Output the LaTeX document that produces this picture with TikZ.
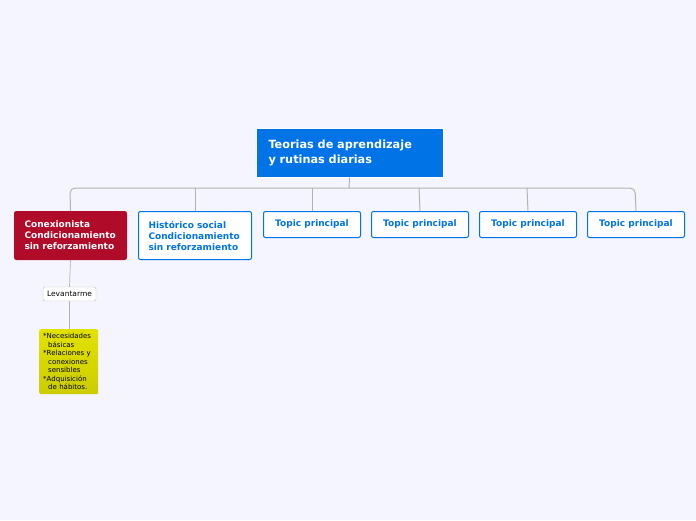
\documentclass[tikz,border=0pt]{standalone}
\usepackage{fontspec}
\setmainfont{DejaVu Sans}
\begin{document}
\begin{tikzpicture}[x=1pt,y=-1pt,
 box/.style={draw=#1,rounded corners=2pt,line width=1pt,inner sep=0pt,anchor=north west},
 topic/.style={box=blue!70!cyan,fill=white,text=blue!70!cyan,font=\bfseries\fontsize{9}{11}\selectfont,align=left},
 conn/.style={draw=black!30,line width=1pt,rounded corners=5pt}]
\fill[blue!4] (0,0) rectangle (696,520);
\definecolor{mb}{HTML}{0073E6}
\definecolor{rd}{HTML}{B00B28}
\node[fill=mb,draw=white,line width=1pt,minimum width=187,minimum height=49,anchor=north west,text=white,font=\bfseries\fontsize{11.3}{15}\selectfont,align=left,text width=162] (root) at (255.5,127.5) {Teorias de aprendizaje\\y rutinas diarias};
\node[box=rd,fill=rd,text=white,font=\bfseries\fontsize{9}{11}\selectfont,align=left,minimum width=112,minimum height=48,text width=92] (c1) at (14,211) {Conexionista\\Condicionamiento\\sin reforzamiento};
\node[topic,draw=mb,text=mb,minimum width=113,minimum height=48,text width=93] (c2) at (138,211) {Histórico social\\Condicionamiento\\sin reforzamiento};
\foreach \i/\x in {3/263,4/371,5/479,6/587}
  \node[topic,draw=mb,text=mb,minimum width=97,minimum height=26,align=center] (c\i) at (\x,211) {Topic principal};
\node[draw=black!25,fill=white,rounded corners=2pt,inner sep=0pt,minimum width=53,minimum height=14,font=\fontsize{7.5}{9}\selectfont] (lev) at (69.5,294) {Levantarme};
\node[top color=yellow!75!olive!90!white,bottom color=yellow!60!olive,rounded corners=2pt,inner sep=0pt,minimum width=59,minimum height=65,anchor=north west,font=\fontsize{7}{8.5}\selectfont,align=left,text width=57] (yel) at (39,329) {\hspace*{3pt}*Necesidades\\\hspace*{8pt}básicas\\\hspace*{3pt}*Relaciones y\\\hspace*{8pt}conexiones\\\hspace*{8pt}sensibles\\\hspace*{3pt}*Adquisición\\\hspace*{8pt}de hábitos.};
\draw[conn] (root.south) -- (349,188);
\draw[conn] (c1.north) -- (70,188) -- (635,188) -- (c6.north);
\foreach \i/\x in {2/195,3/312,4/419,5/527}
  \draw[conn] (\x,188) -- (c\i.north);
\draw[conn,line width=0.7pt] (c1.south) -- (lev.north);
\draw[conn,line width=0.7pt] (lev.south) -- (lev.south|-yel.north);
\end{tikzpicture}
\end{document}
